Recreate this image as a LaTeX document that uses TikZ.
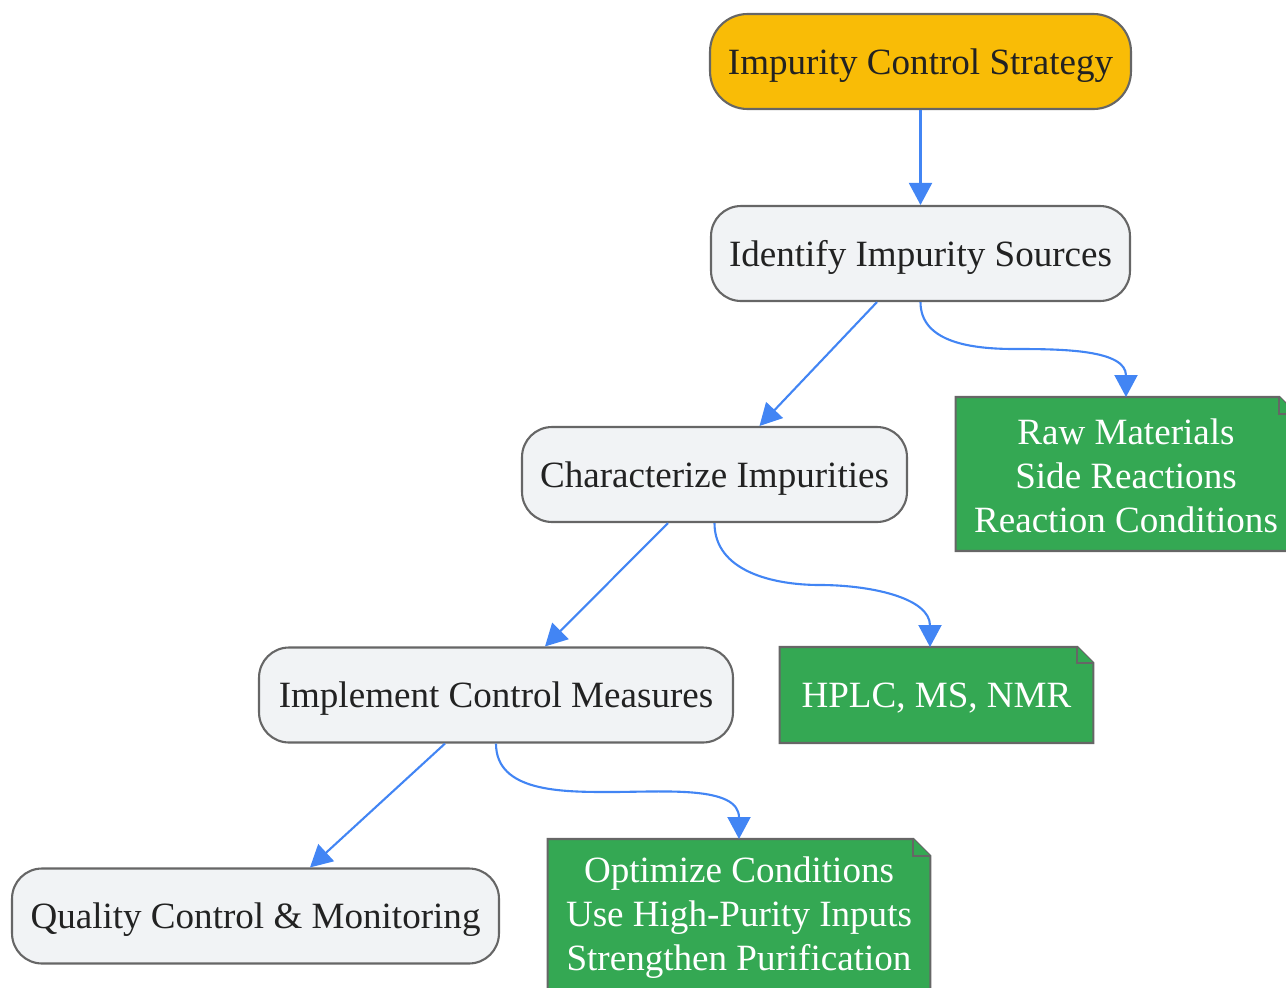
\documentclass[tikz,border=0pt]{standalone}
\usepackage{fontspec}
\setmainfont{Liberation Serif}
\usetikzlibrary{arrows.meta,backgrounds,calc}
\definecolor{gold}{HTML}{F9BC06}
\definecolor{leaf}{HTML}{34A853}
\definecolor{sky}{HTML}{4285F4}
\definecolor{frame}{HTML}{666666}
\definecolor{pale}{HTML}{F1F3F5}
\definecolor{ink}{HTML}{222222}
\begin{document}
\begin{tikzpicture}[x=0.02cm, y=-0.02cm,
		every node/.style={font=\fontsize{21.1}{25}\selectfont},
		stepbox/.style={draw=frame, line width=1.2pt, fill=pale, text=ink, rounded corners=0.6cm, minimum height=1.9cm, inner sep=0pt, text depth=0pt},
		notebox/.style={text=white, align=center, inner sep=0pt},
		link/.style={sky, line width=1.2pt, -{Triangle[length=0.44cm,width=0.46cm]}}]
			\useasboundingbox (0,0) rectangle (1286,988);
			\node[stepbox, fill=gold, rounded corners=0.75cm, minimum width=8.42cm] (strategy) at (920.5,61.5) {Impurity Control Strategy};
			\node[stepbox, minimum width=8.38cm] (sources) at (920.5,253.5) {Identify Impurity Sources};
			\node[stepbox, minimum width=7.7cm] (characterize) at (714.5,474.5) {Characterize Impurities};
			\node[stepbox, minimum width=9.48cm] (measures) at (496,695) {Implement Control Measures};
			\node[stepbox, minimum width=9.74cm] (quality) at (255.5,916) {Quality Control \& Monitoring};
			\node[notebox, minimum width=6.8cm, minimum height=3.08cm] (origins) at (1126,476) {Raw Materials\\Side Reactions\\Reaction Conditions};
			\node[notebox, minimum width=6.26cm, minimum height=1.92cm, text depth=0pt] (methods) at (936.5,695) {HPLC, MS, NMR};
			\node[notebox, minimum width=7.64cm, minimum height=3.08cm] (actions) at (739,918) {Optimize Conditions\\Use High-Purity Inputs\\Strengthen Purification};
			\begin{scope}[on background layer]
				\foreach \n/\f/\t/\b in {origins/0.34cm/397/551, methods/0.32cm/647/743, actions/0.34cm/839/993}{
					\coordinate (nw) at (\n.west |- 0,\t);
					\coordinate (ne) at (\n.east |- 0,\t);
					\coordinate (sw) at (\n.west |- 0,\b);
					\coordinate (se) at (\n.east |- 0,\b);
					\draw[frame, line width=1.2pt, fill=leaf] (sw) -- (nw) -- ($(ne)+(-\f,0)$) -- ($(ne)+(0,-\f)$) -- (se) -- cycle;
					\draw[frame, line width=1.2pt, fill=leaf] ($(ne)+(-\f,0)$) -- ($(ne)+(-\f,-\f)$) -- ($(ne)+(0,-\f)$);
				}
			\end{scope}
			\draw[link] (strategy) -- (sources);
			\draw[link] ($(sources.south)+(-0.87cm,0)$) -- ($(characterize.north)+(0.9cm,0)$);
			\draw[link] ($(characterize.south)+(-0.93cm,0)$) -- ($(measures.north)+(0.98cm,0)$);
			\draw[link] ($(measures.south)+(-1.02cm,0)$) -- ($(quality.north)+(1.09cm,0)$);
			\draw[link] (sources.south) to[out=-90,in=180] (1015,349) to[out=0,in=90] (1126,397);
			\draw[link] (characterize.south) to[out=-90,in=180] (820,585) to[out=0,in=90] (930,647);
			\draw[link] (measures.south) to[out=-90,in=180] (610,792) to[out=0,in=90] (739,839);
		\end{tikzpicture}
\end{document}
